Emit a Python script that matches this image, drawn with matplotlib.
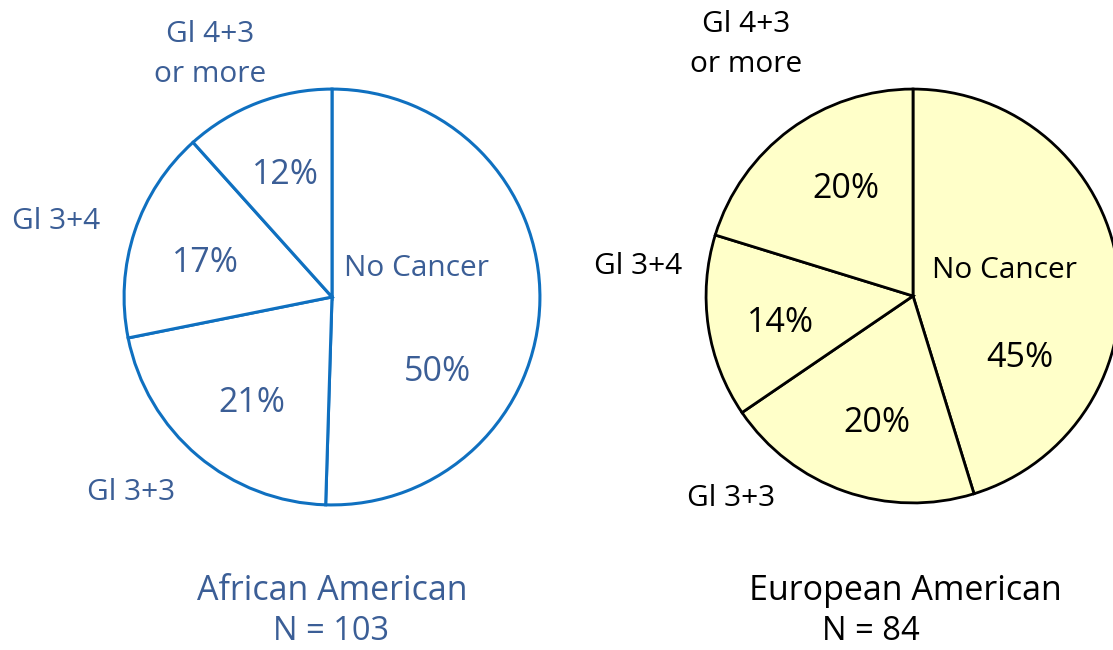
import matplotlib
matplotlib.use("Agg")
import matplotlib.pyplot as plt

plt.rcParams['font.family'] = ['Open Sans', 'DejaVu Sans']

# counts per group (order: No Cancer, Gl 3+3, Gl 3+4, Gl 4+3 or more)
categories = ["No Cancer", "Gl 3+3", "Gl 3+4", "Gl 4+3\nor more"]
aa_counts = [52, 22, 17, 12]
ea_counts = [38, 17, 12, 17]
aa_pct_labels = ["50%", "21%", "17%", "12%"]
ea_pct_labels = ["45%", "20%", "14%", "20%"]
groups = ["African American\nN = 103", "European American\nN = 84"]

W, H = 1113, 650
fig = plt.figure(figsize=(W / 100, H / 100), dpi=100)


def px(x, y):
    # pixel position (top-left origin) -> figure fraction, small baseline nudge
    return x / W, 1 - (y + 3) / H


def pie_axes(cx, cy, r):
    ax = fig.add_axes([(cx - r) / W, 1 - (cy + r) / H, 2 * r / W, 2 * r / H])
    ax.axis('off')
    return ax


blue_txt = '#3B5E96'
blue_line = '#0F70C0'

# left pie
ax1 = pie_axes(332, 297, 210)
ax1.pie(aa_counts, startangle=90, counterclock=False, radius=1,
        colors=['white'] * 4,
        wedgeprops=dict(edgecolor=blue_line, linewidth=2.2))
ax1.set_xlim(-1.01, 1.01)
ax1.set_ylim(-1.01, 1.01)

# right pie
ax2 = pie_axes(913, 296, 209)
ax2.pie(ea_counts, startangle=90, counterclock=False, radius=1,
        colors=['#FFFFC9'] * 4,
        wedgeprops=dict(edgecolor='black', linewidth=2.0))
ax2.set_xlim(-1.01, 1.01)
ax2.set_ylim(-1.01, 1.01)

fs_pct = 24.5
fs_in = 21.5
fs_out = 21.5

# left labels
aa_pct_pos = [(437, 369), (252, 400), (205, 260), (285, 172)]
for (x, y), t in zip(aa_pct_pos, aa_pct_labels):
    fig.text(*px(x, y), t, ha='center', va='center', fontsize=fs_pct, color=blue_txt)
fig.text(*px(417, 265), categories[0], ha='center', va='center', fontsize=fs_in, color=blue_txt)
fig.text(*px(131, 489), categories[1], ha='center', va='center', fontsize=fs_out, color=blue_txt)
fig.text(*px(56, 218), categories[2], ha='center', va='center', fontsize=fs_out, color=blue_txt)
fig.text(*px(210, 52), categories[3], ha='center', va='center', fontsize=fs_out,
         color=blue_txt, linespacing=1.5)

# right labels
ea_pct_pos = [(1020, 355), (877, 420), (781, 320), (846, 186)]
for (x, y), t in zip(ea_pct_pos, ea_pct_labels):
    fig.text(*px(x, y), t, ha='center', va='center', fontsize=fs_pct, color='black')
fig.text(*px(1005, 267), categories[0], ha='center', va='center', fontsize=fs_in, color='black')
fig.text(*px(731, 495), categories[1], ha='center', va='center', fontsize=fs_out, color='black')
fig.text(*px(638, 263), categories[2], ha='center', va='center', fontsize=fs_out, color='black')
fig.text(*px(746, 42), categories[3], ha='center', va='center', fontsize=fs_out,
         color='black', linespacing=1.5)

# group titles
t1, n1 = groups[0].split("\n")
t2, n2 = groups[1].split("\n")
fig.text(*px(332, 588), t1, ha='center', va='center', fontsize=24.5, color=blue_txt)
fig.text(*px(331, 629), n1, ha='center', va='center', fontsize=23.5, color=blue_txt)
fig.text(*px(905, 588), t2, ha='center', va='center', fontsize=24.5, color='black')
fig.text(*px(871, 629), n2, ha='center', va='center', fontsize=23.5, color='black')

fig.savefig("out.png", dpi=100)
